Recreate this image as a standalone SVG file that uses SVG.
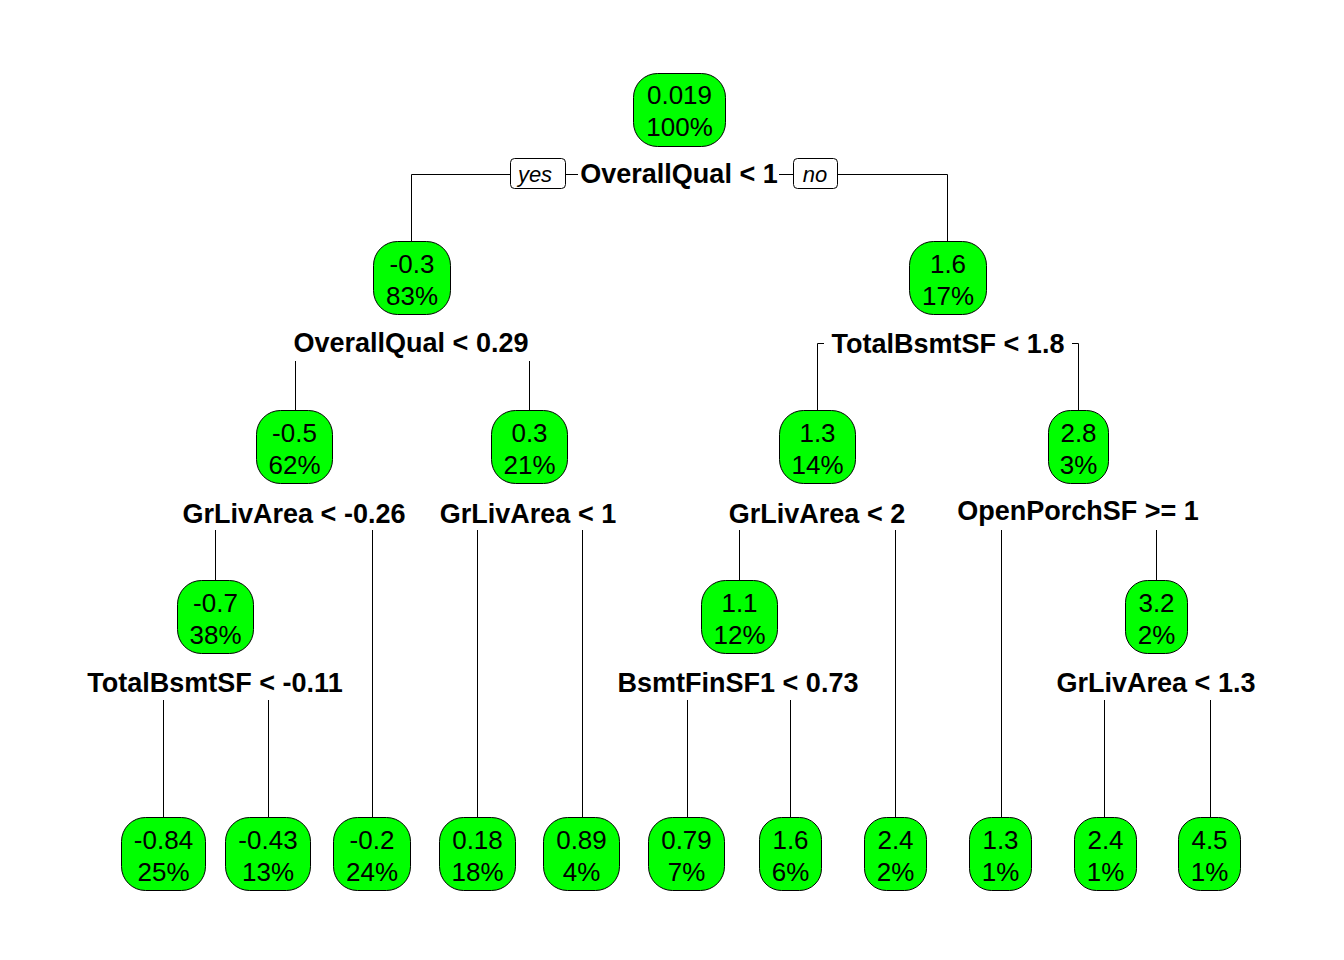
<svg xmlns="http://www.w3.org/2000/svg" width="1344" height="960" viewBox="0 0 1344 960">
<style>
.n rect{fill:#00ff00;stroke:#000;stroke-width:1}
.n text{font-family:"Liberation Sans",Arial,sans-serif;font-size:26px;fill:#000;text-anchor:middle}
.s{font-family:"Liberation Sans",Arial,sans-serif;font-size:27px;font-weight:bold;fill:#000;text-anchor:middle}
.yn rect{fill:#fff;stroke:#000;stroke-width:1}
.yn text{font-family:"Liberation Sans",Arial,sans-serif;font-size:22px;font-style:italic;fill:#000;text-anchor:middle}
.c{stroke:#000;stroke-width:1;fill:none}
</style>
<rect width="1344" height="960" fill="#fff"/>
<g id="connectors" class="c">
<path d="M411.5 241V174.5H510M565 174.5H578M779 174.5H793M837 174.5H947.5V241"/>
<path d="M295.5 361V410M529.5 361V410"/>
<path d="M817.5 410V343.5H824M1072 343.5H1078.5V410"/>
<path d="M215.5 530V580M372.5 530V817M477.5 530V817M582.5 530V817"/>
<path d="M739.5 530V580M895.5 530V817M1001.5 530V817M1156.5 530V580"/>
<path d="M163.5 700V817M268.5 700V817M687.5 700V817M790.5 700V817M1104.5 700V817M1210.5 700V817"/>
</g>
<g id="yes" class="yn"><rect x="510.5" y="158.5" width="55" height="30" rx="4"/><text x="535" y="182">yes</text></g>
<g id="no" class="yn"><rect x="793.5" y="158.5" width="44" height="30" rx="4"/><text x="815" y="182">no</text></g>
<g id="labels">
<text class="s" x="679" y="183">OverallQual &lt; 1</text>
<text class="s" x="411" y="352">OverallQual &lt; 0.29</text>
<text class="s" x="948" y="353">TotalBsmtSF &lt; 1.8</text>
<text class="s" x="294" y="523">GrLivArea &lt; -0.26</text>
<text class="s" x="528" y="523">GrLivArea &lt; 1</text>
<text class="s" x="817" y="523">GrLivArea &lt; 2</text>
<text class="s" x="1078" y="520">OpenPorchSF &gt;= 1</text>
<text class="s" x="215" y="692">TotalBsmtSF &lt; -0.11</text>
<text class="s" x="738" y="692">BsmtFinSF1 &lt; 0.73</text>
<text class="s" x="1156" y="692">GrLivArea &lt; 1.3</text>
</g>
<g id="n1" class="n"><rect x="633.5" y="73.5" width="92" height="73" rx="24"/><text x="679.5" y="104">0.019</text><text x="679.5" y="136">100%</text></g>
<g id="n2" class="n"><rect x="373.5" y="241.5" width="77" height="73" rx="24"/><text x="412" y="273">-0.3</text><text x="412" y="305">83%</text></g>
<g id="n3" class="n"><rect x="909.5" y="241.5" width="77" height="73" rx="24"/><text x="948" y="273">1.6</text><text x="948" y="305">17%</text></g>
<g id="n4" class="n"><rect x="256.5" y="410.5" width="76" height="73" rx="24"/><text x="294.5" y="442">-0.5</text><text x="294.5" y="474">62%</text></g>
<g id="n5" class="n"><rect x="491.5" y="410.5" width="76" height="73" rx="24"/><text x="529.5" y="442">0.3</text><text x="529.5" y="474">21%</text></g>
<g id="n6" class="n"><rect x="779.5" y="410.5" width="76" height="73" rx="24"/><text x="817.5" y="442">1.3</text><text x="817.5" y="474">14%</text></g>
<g id="n7" class="n"><rect x="1048.5" y="410.5" width="60" height="73" rx="22"/><text x="1078.5" y="442">2.8</text><text x="1078.5" y="474">3%</text></g>
<g id="n8" class="n"><rect x="177.5" y="580.5" width="76" height="73" rx="24"/><text x="215.5" y="612">-0.7</text><text x="215.5" y="644">38%</text></g>
<g id="n9" class="n"><rect x="701.5" y="580.5" width="76" height="73" rx="24"/><text x="739.5" y="612">1.1</text><text x="739.5" y="644">12%</text></g>
<g id="n10" class="n"><rect x="1125.5" y="580.5" width="62" height="73" rx="22"/><text x="1156.5" y="612">3.2</text><text x="1156.5" y="644">2%</text></g>
<g id="l1" class="n"><rect x="121.5" y="817.5" width="84" height="73" rx="24"/><text x="163.5" y="849">-0.84</text><text x="163.5" y="881">25%</text></g>
<g id="l2" class="n"><rect x="225.5" y="817.5" width="85" height="73" rx="24"/><text x="268" y="849">-0.43</text><text x="268" y="881">13%</text></g>
<g id="l3" class="n"><rect x="333.5" y="817.5" width="77" height="73" rx="24"/><text x="372" y="849">-0.2</text><text x="372" y="881">24%</text></g>
<g id="l4" class="n"><rect x="439.5" y="817.5" width="76" height="73" rx="24"/><text x="477.5" y="849">0.18</text><text x="477.5" y="881">18%</text></g>
<g id="l5" class="n"><rect x="543.5" y="817.5" width="76" height="73" rx="24"/><text x="581.5" y="849">0.89</text><text x="581.5" y="881">4%</text></g>
<g id="l6" class="n"><rect x="648.5" y="817.5" width="76" height="73" rx="24"/><text x="686.5" y="849">0.79</text><text x="686.5" y="881">7%</text></g>
<g id="l7" class="n"><rect x="759.5" y="817.5" width="62" height="73" rx="22"/><text x="790.5" y="849">1.6</text><text x="790.5" y="881">6%</text></g>
<g id="l8" class="n"><rect x="864.5" y="817.5" width="62" height="73" rx="22"/><text x="895.5" y="849">2.4</text><text x="895.5" y="881">2%</text></g>
<g id="l9" class="n"><rect x="969.5" y="817.5" width="62" height="73" rx="22"/><text x="1000.5" y="849">1.3</text><text x="1000.5" y="881">1%</text></g>
<g id="l10" class="n"><rect x="1074.5" y="817.5" width="62" height="73" rx="22"/><text x="1105.5" y="849">2.4</text><text x="1105.5" y="881">1%</text></g>
<g id="l11" class="n"><rect x="1178.5" y="817.5" width="62" height="73" rx="22"/><text x="1209.5" y="849">4.5</text><text x="1209.5" y="881">1%</text></g>
</svg>
